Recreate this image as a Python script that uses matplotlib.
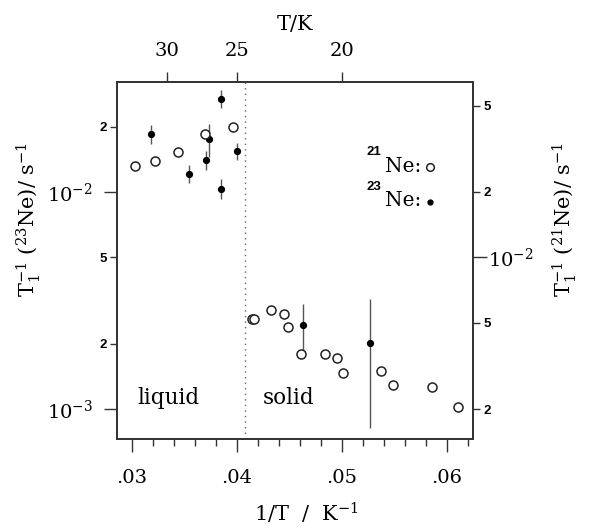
import matplotlib
matplotlib.use("Agg")
import matplotlib.pyplot as plt
from matplotlib.ticker import FixedLocator, FixedFormatter, NullLocator

# ---------------- data ----------------
# 21Ne (open circles, right axis units, s^-1)
ne21_x = [0.03029, 0.03219, 0.03435, 0.03692, 0.03965,
          0.04140, 0.04162, 0.04324, 0.04444, 0.04489, 0.04606, 0.04838,
          0.04949, 0.05006, 0.05368, 0.05489, 0.05860, 0.06102]
ne21_y = [0.0264, 0.0278, 0.0304, 0.0371, 0.0399,
          0.0052, 0.0052, 0.0057, 0.0055, 0.00476, 0.0036, 0.00358,
          0.00344, 0.00292, 0.0030, 0.00258, 0.00252, 0.00205]

# 23Ne (filled dots with error bars, left axis units, s^-1)
ne23_x = [0.03178, 0.03540, 0.03705, 0.03733, 0.03845, 0.03845, 0.03997, 0.04625, 0.05267]
ne23_y = [0.01849, 0.01214, 0.01400, 0.01750, 0.02685, 0.01036, 0.01545, 0.00245, 0.00202]
ne23_err = [0.0018, 0.0011, 0.0014, 0.0030, 0.0025, 0.0011, 0.0014, 0.0006, 0.0012]

T_melt = 24.56          # K, liquid/solid boundary
top_T_ticks = [30, 25, 20]
x_major = [0.03, 0.04, 0.05, 0.06]
x_major_labels = [".03", ".04", ".05", ".06"]

left_major = [1e-3, 1e-2]
left_major_labels = [r"$10^{-3}$", r"$10^{-2}$"]
left_minor = [2e-3, 5e-3, 2e-2]
left_minor_labels = ["2", "5", "2"]

right_major = [1e-2]
right_major_labels = [r"$10^{-2}$"]
right_minor = [2e-3, 5e-3, 2e-2, 5e-2]
right_minor_labels = ["2", "5", "2", "5"]
ratio_21_23 = 2.0       # right axis = 2 x left axis

xlim = (0.028571, 0.062476)
ylim = (7.28e-4, 0.0321)

# ---------------- style ----------------
plt.rcParams["font.family"] = ["DejaVu Serif"]
plt.rcParams["mathtext.fontset"] = "dejavuserif"
spine_c = "#333333"

fig = plt.figure(figsize=(5.89, 5.28), dpi=100)
ax = fig.add_axes([0.1986, 0.1686, 0.6045, 0.6761])
ax.set_xlim(*xlim)
ax.set_yscale("log")
ax.set_ylim(*ylim)

ax2 = ax.twinx()
ax2.set_yscale("log")
ax2.set_ylim(ylim[0] * ratio_21_23, ylim[1] * ratio_21_23)

ax3 = ax.twiny()
ax3.set_xlim(*xlim)

for a in (ax, ax2, ax3):
    for s in a.spines.values():
        s.set_color(spine_c)
        s.set_linewidth(1.1)

# liquid / solid boundary
ax.axvline(1.0 / T_melt, color="#666666", lw=1.0, ls=(0, (1, 3)))

# 23Ne
ax.errorbar(ne23_x, ne23_y, yerr=ne23_err, fmt="o", color="black",
            ms=4.2, ecolor="#555555", elinewidth=1.0, capsize=0, zorder=3)
# 21Ne
ax2.plot(ne21_x, ne21_y, "o", mfc="white", mec="#222222", mew=1.1, ms=6.5,
         ls="none", zorder=3)

# ---------------- x axis (bottom) ----------------
ax.xaxis.set_major_locator(FixedLocator(x_major))
ax.xaxis.set_major_formatter(FixedFormatter(x_major_labels))
ax.xaxis.set_minor_locator(FixedLocator([0.030 + 0.002 * i for i in range(17)]))
ax.tick_params(axis="x", which="major", direction="out", length=9.5, width=1,
               labelsize=14, pad=12, color=spine_c, top=False)
ax.tick_params(axis="x", which="minor", direction="out", length=5, width=1,
               color=spine_c, top=False)

# ---------------- top axis (T) ----------------
ax3.xaxis.set_major_locator(FixedLocator([1.0 / t for t in top_T_ticks]))
ax3.xaxis.set_major_formatter(FixedFormatter([str(t) for t in top_T_ticks]))
ax3.xaxis.set_minor_locator(NullLocator())
ax3.tick_params(axis="x", which="major", direction="out", length=7.5, width=1,
                labelsize=14, pad=8, color=spine_c)
ax3.set_xlabel("T/K", fontsize=15, labelpad=9)

# ---------------- left y axis ----------------
ax.yaxis.set_major_locator(FixedLocator(left_major))
ax.yaxis.set_major_formatter(FixedFormatter(left_major_labels))
ax.yaxis.set_minor_locator(FixedLocator(left_minor))
ax.yaxis.set_minor_formatter(FixedFormatter(left_minor_labels))
ax.tick_params(axis="y", which="major", direction="out", length=9.5, width=1,
               labelsize=14, pad=8, color=spine_c, right=False)
ax.tick_params(axis="y", which="minor", direction="out", length=5, width=1,
               labelsize=9.5, pad=2, color=spine_c, right=False)
for t in ax.yaxis.get_minorticklabels():
    t.set_family("Liberation Sans")
    t.set_fontweight("bold")

# ---------------- right y axis ----------------
ax2.yaxis.set_major_locator(FixedLocator(right_major))
ax2.yaxis.set_major_formatter(FixedFormatter(right_major_labels))
ax2.yaxis.set_minor_locator(FixedLocator(right_minor))
ax2.yaxis.set_minor_formatter(FixedFormatter(right_minor_labels))
ax2.tick_params(axis="y", which="major", direction="out", length=10, width=1,
                labelsize=14, pad=1, color=spine_c)
ax2.tick_params(axis="y", which="minor", direction="out", length=5, width=1,
                labelsize=9.5, pad=2.5, color=spine_c)
for t in ax2.yaxis.get_minorticklabels():
    t.set_family("Liberation Sans")
    t.set_fontweight("bold")

# axis labels
fig.text(0.52, 0.028, r"1/T  /  K$^{-1}$", ha="center", va="center", fontsize=15)
fig.text(0.048, 0.585, r"T$_1^{-1}$ ($^{23}$Ne)/ s$^{-1}$", rotation=90,
         ha="center", va="center", fontsize=15)
fig.text(0.958, 0.585, r"T$_1^{-1}$ ($^{21}$Ne)/ s$^{-1}$", rotation=90,
         ha="center", va="center", fontsize=15)

# region labels
ax.text(0.056, 0.114, "liquid", transform=ax.transAxes, fontsize=15.5,
        ha="left", va="center")
ax.text(0.41, 0.114, "solid", transform=ax.transAxes, fontsize=15.5,
        ha="left", va="center")

# legend
ax.text(0.70, 0.804, "21", transform=ax.transAxes, fontsize=9.5, ha="left", va="center",
        family="Liberation Sans", fontweight="bold")
ax.text(0.753, 0.762, "Ne:", transform=ax.transAxes, fontsize=14.5, ha="left", va="center")
ax.plot([0.879], [0.762], "o", transform=ax.transAxes, mfc="white", mec="#222222",
        mew=1.1, ms=5.5, clip_on=False)
ax.text(0.70, 0.706, "23", transform=ax.transAxes, fontsize=9.5, ha="left", va="center",
        family="Liberation Sans", fontweight="bold")
ax.text(0.753, 0.667, "Ne:", transform=ax.transAxes, fontsize=14.5, ha="left", va="center")
ax.plot([0.879], [0.664], "o", transform=ax.transAxes, color="black", ms=3.5,
        clip_on=False)

fig.savefig("out.png", dpi=100)
